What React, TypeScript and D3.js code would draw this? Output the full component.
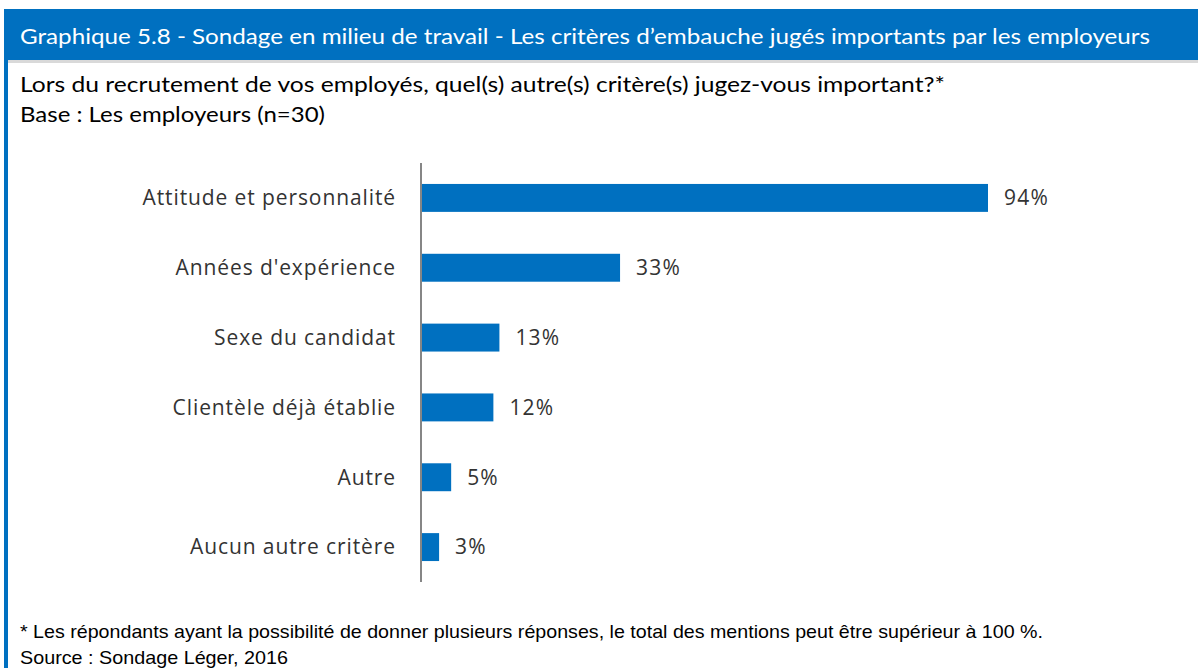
import React, { useEffect, useRef } from 'react';
import * as d3 from 'd3';

const categories = [
  'Attitude et personnalité',
  "Années d'expérience",
  'Sexe du candidat',
  'Clientèle déjà établie',
  'Autre',
  'Aucun autre critère',
];
const values = [94, 33, 13, 12, 5, 3];

const title = 'Graphique 5.8 - Sondage en milieu de travail - Les critères d’embauche jugés importants par les employeurs';
const question = 'Lors du recrutement de vos employés, quel(s) autre(s) critère(s) jugez-vous important?*';
const base = 'Base : Les employeurs (n=30)';
const note = '* Les répondants ayant la possibilité de donner plusieurs réponses, le total des mentions peut être supérieur à 100 %.';
const source = 'Source : Sondage Léger, 2016';

const W = 1198;
const H = 668;
const blue = '#0070c0';

const App = () => {
  const svgRef = useRef<SVGSVGElement>(null);

  useEffect(() => {
    const svg = d3.select(svgRef.current);
    svg.selectAll('*').remove();

    // frame
    svg.append('rect').attr('x', 4).attr('y', 9).attr('width', 4).attr('height', H - 9).attr('fill', blue);
    svg.append('rect').attr('x', 4).attr('y', 9).attr('width', W - 4).attr('height', 51).attr('fill', blue);
    svg.append('rect').attr('x', 8).attr('y', 60).attr('width', W - 8).attr('height', 3).attr('fill', '#d9d9d9');

    const calibri = 'Lato, "Open Sans", sans-serif';
    svg.append('text').attr('x', 20).attr('y', 44).attr('fill', '#fff')
      .style('font-family', calibri).style('font-size', '22px')
      .attr('textLength', 1130).attr('lengthAdjust', 'spacingAndGlyphs').text(title);
    svg.append('text').attr('x', 20).attr('y', 92).attr('fill', '#000')
      .style('font-family', calibri).style('font-size', '22px')
      .attr('textLength', 925).attr('lengthAdjust', 'spacingAndGlyphs').text(question);
    svg.append('text').attr('x', 20).attr('y', 122).attr('fill', '#000')
      .style('font-family', calibri).style('font-size', '22px')
      .attr('textLength', 305).attr('lengthAdjust', 'spacingAndGlyphs').text(base);

    const narrow = '"Liberation Sans Narrow", "Liberation Sans", Arial, sans-serif';
    svg.append('text').attr('x', 20).attr('y', 638).attr('fill', '#000')
      .style('font-family', narrow).style('font-size', '19px')
      .attr('textLength', 1023).attr('lengthAdjust', 'spacingAndGlyphs').text(note);
    svg.append('text').attr('x', 20).attr('y', 664).attr('fill', '#000')
      .style('font-family', narrow).style('font-size', '19px')
      .attr('textLength', 268).attr('lengthAdjust', 'spacingAndGlyphs').text(source);

    // chart
    const x = d3.scaleLinear().domain([0, 94]).range([421, 988]);
    const y = d3.scaleBand().domain(categories).range([163, 582]).paddingInner(0.6).paddingOuter(0.3);

    svg.selectAll('.bar').data(categories).enter().append('rect')
      .attr('x', x(0)).attr('y', d => y(d)!).attr('height', y.bandwidth())
      .attr('width', (d, i) => x(values[i]) - x(0)).attr('fill', blue);

    svg.append('line').attr('x1', 421).attr('x2', 421).attr('y1', 163).attr('y2', 582)
      .attr('stroke', '#868686').attr('stroke-width', 2);

    const labelFont = '"Open Sans", "Noto Sans", sans-serif';
    svg.selectAll('.cat').data(categories).enter().append('text')
      .attr('x', 396).attr('y', d => y(d)! + y.bandwidth() / 2).attr('dy', '0.35em')
      .attr('text-anchor', 'end').attr('fill', '#333')
      .style('font-family', labelFont).style('font-size', '21px').style('letter-spacing', '0.9px')
      .text(d => d);

    svg.selectAll('.val').data(categories).enter().append('text')
      .attr('x', (d, i) => x(values[i]) + 16).attr('y', d => y(d)! + y.bandwidth() / 2).attr('dy', '0.35em')
      .attr('fill', '#333')
      .style('font-family', labelFont).style('font-size', '21px').style('letter-spacing', '1.2px')
      .text((d, i) => `${values[i]}%`);
  }, []);

  return (
    <svg ref={svgRef} width={W} height={H} style={{ position: 'absolute', left: 0, top: 0, background: '#fff' }} />
  );
};

export default App;
